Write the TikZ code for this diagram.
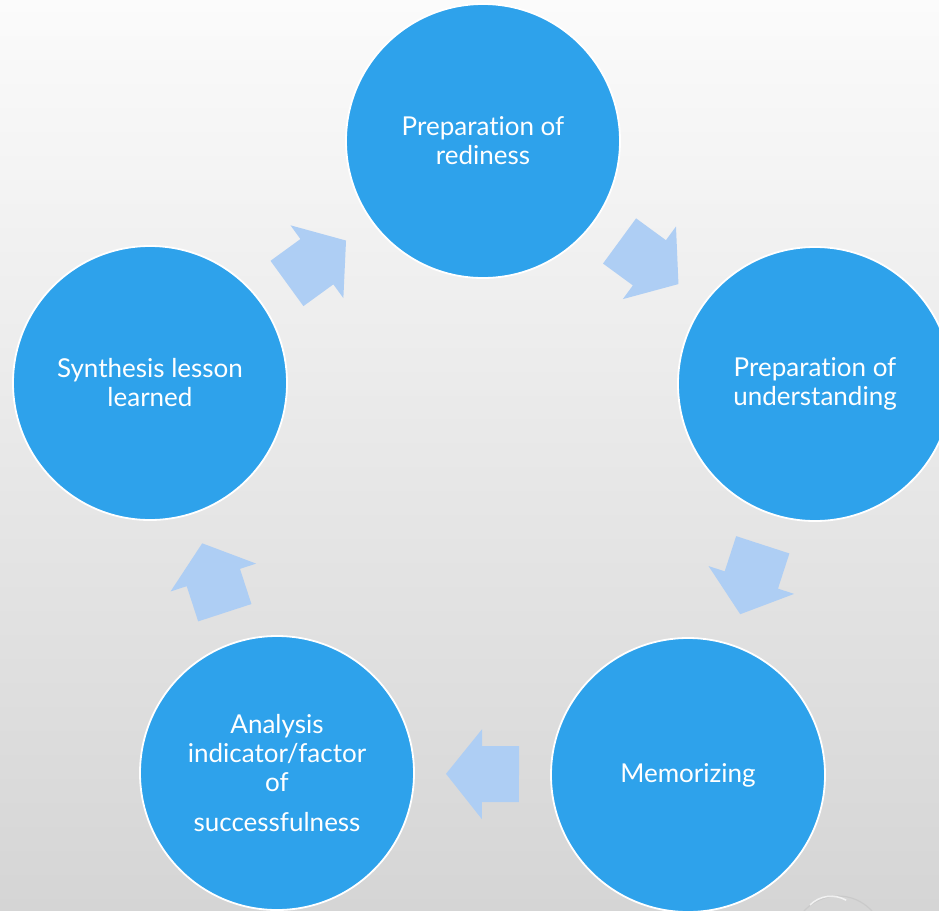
\documentclass[tikz,border=0pt]{standalone}
\usepackage{fontspec}
\setmainfont{Lato}[Ligatures={NoCommon,NoDiscretionary,NoRare}]
\usetikzlibrary{calc}
\definecolor{circblue}{RGB}{46,162,235}
\definecolor{arrblue}{RGB}{174,206,244}
\definecolor{bgtop}{RGB}{251,251,251}
\definecolor{bgbot}{RGB}{213,213,213}
\begin{document}
\begin{tikzpicture}[x=1pt,y=-1pt,
  stage/.style={circle, minimum size=274pt, inner sep=0pt, fill=circblue,
    draw=white, line width=1.8pt, text=white, align=center,
    font=\fontsize{26}{29}\selectfont},
  blockarrow/.pic={\fill[arrblue] (-36.5,28) -- (0.5,28) -- (0.5,45) -- (36.5,0)
    -- (0.5,-45) -- (0.5,-28) -- (-36.5,-28) -- cycle;},
  arrowpos/.style={pos=0.5, sloped, allow upside down}
]
\useasboundingbox (0,0) rectangle (939,910);
\clip (0,0) rectangle (939,910);
\shade[top color=bgtop, bottom color=bgbot] (0,0) rectangle (939,910);
\draw[gray!45, line width=1.2pt, opacity=0.7] (838,942) circle (46);
\draw[white, line width=1.5pt, opacity=0.7] (810,905) arc (225:300:30);

\node[stage] (s1) at (483,141) {Preparation of\\rediness};
\node[stage] (s2) at (815,384) {Preparation of\\understanding};
\node[stage] (s3) at (688,775) {Memorizing};
\node[stage] (s4) at (277,773) {Analysis\\indicator/factor\\of\\[11pt]successfulness};
\node[stage] (s5) at (150,383) {Synthesis lesson\\learned};

\path (s1) -- (s2) pic[arrowpos] {blockarrow};
\path (s2) -- (s3) pic[arrowpos] {blockarrow};
\path (s3) -- (s4) pic[arrowpos] {blockarrow};
\path (s4) -- (s5) pic[arrowpos] {blockarrow};
\path (s5) -- (s1) pic[arrowpos] {blockarrow};
\end{tikzpicture}
\end{document}
